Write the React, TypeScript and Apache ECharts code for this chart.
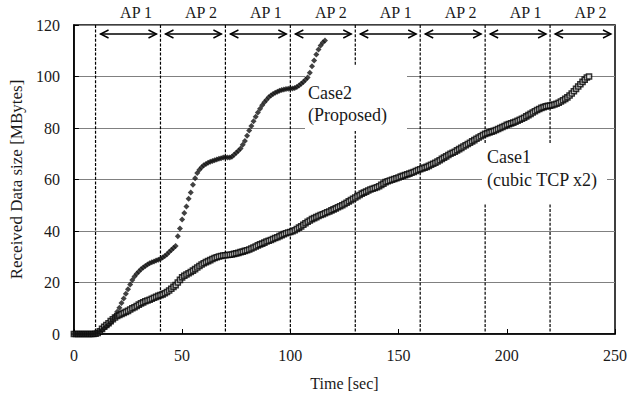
import React, { useEffect, useRef } from "react";
import * as echarts from "echarts";

// x tick values / axis ranges
const xTicks = [0, 50, 100, 150, 200, 250];
const yTicks = [0, 20, 40, 60, 80, 100, 120];

// AP handover periods
const apStart = [10, 40, 70, 100, 130, 160, 190, 220];
const apEnd = [40, 70, 100, 130, 160, 190, 220, 250];
const apLabel = ["AP 1", "AP 2", "AP 1", "AP 2", "AP 1", "AP 2", "AP 1", "AP 2"];

// Case2 (Proposed): one sample per second, t = 0..116
const case2 = [
  0, 0, 0, 0, 0, 0, 0, 0, 0, 0,
  0.2, 0.5, 1.0, 1.6, 2.2, 2.9, 3.6, 4.4, 5.6, 7.0,
  8.6, 10.2, 12.0, 13.8, 15.6, 17.4, 19.2, 21.0, 22.3, 23.4,
  24.3, 25.1, 25.8, 26.4, 27.0, 27.5, 27.9, 28.2, 28.5, 28.8,
  29.2, 29.7, 30.3, 31.0, 31.8, 32.6, 33.4, 34.2, 38.0, 41.0,
  44.5, 47.0, 49.5, 52.5, 55.0, 58.0, 60.5, 62.5, 63.8, 64.8,
  65.5, 66.0, 66.5, 66.9, 67.2, 67.5, 67.8, 68.1, 68.3, 68.5,
  68.6, 68.5, 68.5, 68.8, 69.6, 70.4, 71.2, 72.0, 73.5, 75.0,
  77.0, 79.0, 80.8, 82.6, 84.4, 86.0, 87.5, 88.8, 90.0, 91.0,
  91.9, 92.6, 93.2, 93.7, 94.1, 94.5, 94.8, 95.0, 95.1, 95.2,
  95.3, 95.3, 95.5, 95.9, 96.5, 97.2, 97.9, 98.7, 99.6, 101.5,
  104.0, 106.2, 108.5, 110.5, 112.0, 113.2, 114.0,
];

// Case1 (cubic TCP x2): one sample per second, t = 0..238
const case1 = [
  0, 0, 0, 0, 0, 0, 0, 0, 0, 0,
  0.1, 0.4, 1.0, 2.0, 2.8, 3.5, 4.2, 5.0, 5.7, 6.4,
  7.0, 7.4, 7.8, 8.2, 8.6, 9.0, 9.5, 10.0, 10.4, 10.9,
  11.4, 11.9, 12.3, 12.7, 13.0, 13.3, 13.7, 14.1, 14.4, 14.8,
  15.1, 15.4, 15.8, 16.3, 16.9, 17.6, 18.3, 19.0, 20.0, 21.0,
  22.0, 22.6, 23.1, 23.6, 24.1, 24.6, 25.2, 25.8, 26.4, 27.0,
  27.5, 27.9, 28.3, 28.7, 29.1, 29.5, 29.8, 30.1, 30.3, 30.5,
  30.6, 30.7, 30.8, 30.9, 31.1, 31.3, 31.5, 31.8, 32.0, 32.3,
  32.5, 32.8, 33.2, 33.6, 34.0, 34.4, 34.8, 35.1, 35.5, 35.9,
  36.2, 36.5, 36.9, 37.3, 37.6, 38.0, 38.4, 38.8, 39.1, 39.4,
  39.6, 39.9, 40.3, 40.8, 41.3, 41.8, 42.4, 43.0, 43.6, 44.1,
  44.6, 45.0, 45.4, 45.8, 46.2, 46.5, 46.9, 47.3, 47.6, 48.0,
  48.4, 48.8, 49.2, 49.6, 50.0, 50.5, 51.0, 51.5, 52.0, 52.5,
  53.0, 53.5, 54.0, 54.5, 54.9, 55.3, 55.7, 56.1, 56.4, 56.7,
  57.0, 57.4, 57.9, 58.4, 59.0, 59.3, 59.6, 59.9, 60.2, 60.5,
  60.8, 61.1, 61.4, 61.7, 62.0, 62.3, 62.6, 62.9, 63.3, 63.7,
  64.0, 64.3, 64.6, 64.9, 65.3, 65.7, 66.1, 66.5, 67.0, 67.5,
  68.0, 68.5, 69.0, 69.5, 70.0, 70.4, 70.8, 71.3, 71.8, 72.3,
  72.8, 73.3, 73.8, 74.3, 74.8, 75.3, 75.8, 76.3, 76.8, 77.3,
  77.7, 78.0, 78.3, 78.6, 78.9, 79.2, 79.6, 80.0, 80.4, 80.8,
  81.2, 81.5, 81.8, 82.1, 82.4, 82.8, 83.2, 83.6, 84.0, 84.5,
  85.0, 85.5, 86.0, 86.5, 87.0, 87.4, 87.8, 88.1, 88.4, 88.6,
  88.7, 88.9, 89.1, 89.4, 89.8, 90.3, 90.8, 91.3, 91.9, 92.6,
  93.4, 94.3, 95.2, 96.1, 97.0, 97.9, 98.8, 99.6, 100.0,
];

const case2Label = "Case2\n(Proposed)";
const case1Label = "Case1\n(cubic TCP x2)";
const xName = "Time [sec]";
const yName = "Received Data size [MBytes]";

const FONT = "Liberation Serif";
const INK = "#1a1a1a";

export default function App() {
  const ref = useRef<HTMLDivElement>(null);

  useEffect(() => {
    if (!ref.current) return;
    const chart = echarts.init(ref.current, undefined, { renderer: "svg" });

    const xMin = xTicks[0];
    const xMax = xTicks[xTicks.length - 1];
    const yMin = yTicks[0];
    const yMax = yTicks[yTicks.length - 1];

    const apData = apStart.map((s, i) => [s, apEnd[i]]);

    const option: any = {
      animation: false,
      backgroundColor: "#ffffff",
      textStyle: { fontFamily: FONT },
      grid: {
        left: 72,
        right: 24,
        top: 25,
        bottom: 65,
        show: true,
        borderColor: "#000",
        borderWidth: 1.5,
        backgroundColor: "transparent",
      },
      xAxis: {
        type: "value",
        min: xMin,
        max: xMax,
        interval: 50,
        name: xName,
        nameLocation: "middle",
        nameGap: 41,
        nameTextStyle: { fontFamily: FONT, fontSize: 16, color: INK },
        axisLine: { show: true, lineStyle: { color: "#000", width: 1.5 } },
        axisTick: { show: true, inside: true, length: 5, lineStyle: { color: "#000" } },
        axisLabel: { fontFamily: FONT, fontSize: 16, color: INK, margin: 13 },
        splitLine: { show: false },
      },
      yAxis: {
        type: "value",
        min: yMin,
        max: yMax,
        interval: 20,
        name: yName,
        nameLocation: "middle",
        nameGap: 44,
        nameRotate: 90,
        nameTextStyle: { fontFamily: FONT, fontSize: 17, color: INK },
        axisLine: { show: true, lineStyle: { color: "#000", width: 1.5 } },
        axisTick: { show: true, inside: true, length: 5, lineStyle: { color: "#000" } },
        axisLabel: { fontFamily: FONT, fontSize: 16, color: INK, margin: 14 },
        splitLine: { show: true, lineStyle: { color: "#808080", width: 1 } },
      },
      graphic: [
        {
          type: "rect",
          z: 5,
          shape: { x: 305, y: 66, width: 102, height: 65 },
          style: { fill: "#ffffff" },
        },
        {
          type: "text",
          z: 6,
          x: 308,
          y: 82,
          style: {
            text: case2Label,
            fontFamily: FONT,
            fontSize: 18,
            lineHeight: 22,
            fill: INK,
          },
        },
        {
          type: "rect",
          z: 5,
          shape: { x: 482, y: 143, width: 125, height: 60 },
          style: { fill: "#ffffff" },
        },
        {
          type: "text",
          z: 6,
          x: 487,
          y: 145,
          style: {
            text: case1Label,
            fontFamily: FONT,
            fontSize: 18,
            lineHeight: 23,
            fill: INK,
          },
        },
      ],
      series: [
        {
          type: "custom",
          z: 2,
          clip: false,
          silent: true,
          data: apData,
          renderItem: (params: any, api: any) => {
            const s = api.value(0);
            const e = api.value(1);
            const bottom = api.coord([s, yMin]);
            const top = api.coord([s, yMax]);
            const endTop = api.coord([e, yMax]);
            const ay = top[1] + 9;
            const x1 = top[0] + 5;
            const x2 = endTop[0] - 4;
            const h = 8;
            const w = 4;
            return {
              type: "group",
              children: [
                {
                  type: "line",
                  shape: { x1: top[0], y1: top[1], x2: bottom[0], y2: bottom[1] },
                  style: { stroke: "#000", lineWidth: 1.2, lineDash: [3, 1.6] },
                },
                {
                  type: "line",
                  shape: { x1: x1, y1: ay, x2: x2, y2: ay },
                  style: { stroke: "#000", lineWidth: 1.4 },
                },
                {
                  type: "polyline",
                  shape: { points: [[x1 + h, ay - w], [x1, ay], [x1 + h, ay + w]] },
                  style: { stroke: "#000", lineWidth: 1.4, fill: "none" },
                },
                {
                  type: "polyline",
                  shape: { points: [[x2 - h, ay - w], [x2, ay], [x2 - h, ay + w]] },
                  style: { stroke: "#000", lineWidth: 1.4, fill: "none" },
                },
                {
                  type: "text",
                  x: (top[0] + endTop[0]) / 2 + 8,
                  y: top[1] - 13,
                  style: {
                    text: apLabel[params.dataIndex],
                    fontFamily: FONT,
                    fontSize: 16,
                    fill: INK,
                    align: "center",
                    verticalAlign: "middle",
                  },
                },
              ],
            };
          },
        },
        {
          name: "Case1",
          type: "scatter",
          z: 10,
          symbol: "rect",
          symbolSize: 5,
          silent: true,
          itemStyle: { color: "#ffffff", borderColor: "#000", borderWidth: 1.6 },
          data: case1.map((v, i) => [i, v]),
        },
        {
          name: "Case2",
          type: "scatter",
          z: 11,
          symbol: "diamond",
          symbolSize: 6,
          silent: true,
          itemStyle: { color: "#111" },
          data: case2.map((v, i) => [i, v]),
        },
      ],
    };

    chart.setOption(option);
    return () => chart.dispose();
  }, []);

  return (
    <div
      ref={ref}
      style={{ position: "fixed", left: 0, top: 0, width: 639, height: 399, background: "#fff" }}
    />
  );
}
